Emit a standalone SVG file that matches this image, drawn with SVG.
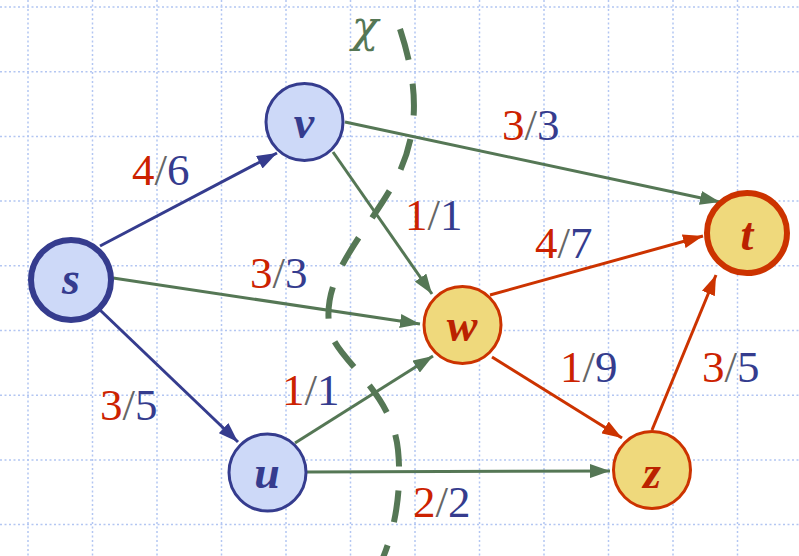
<svg xmlns="http://www.w3.org/2000/svg" width="799" height="556" viewBox="0 0 799 556">
<style>
.grid line{stroke:#b3c6f2;stroke-width:1.5;stroke-dasharray:2 2.5}
.e{fill:none;stroke-width:3}
.eb{stroke:#353c8e}
.eg{stroke:#557755}
.er{stroke:#cc3300}
.nb{fill:#cdd9f8;stroke:#353c8e}
.ny{fill:#efd97c;stroke:#cc3300}
.nl{font-family:"Liberation Serif",serif;font-weight:bold;font-style:italic;font-size:46px;text-anchor:middle}
.lb{fill:#353c8e}
.ly{fill:#bb2200}
.lab{font-family:"Liberation Serif",serif;font-size:45px}
.r{fill:#cc2200}
.s{fill:#666666}
.b{fill:#353c8e}
.cut{fill:none;stroke:#557755;stroke-width:6;stroke-dasharray:32 24}
</style>
<defs>
<marker id="ab" markerUnits="userSpaceOnUse" markerWidth="20" markerHeight="14" refX="20" refY="7" orient="auto"><path d="M0,0 L20,7 L0,14 z" fill="#353c8e"/></marker>
<marker id="ag" markerUnits="userSpaceOnUse" markerWidth="20" markerHeight="14" refX="20" refY="7" orient="auto"><path d="M0,0 L20,7 L0,14 z" fill="#557755"/></marker>
<marker id="ar" markerUnits="userSpaceOnUse" markerWidth="20" markerHeight="14" refX="20" refY="7" orient="auto"><path d="M0,0 L20,7 L0,14 z" fill="#cc3300"/></marker>
</defs>
<rect width="799" height="556" fill="#ffffff"/>
<g class="grid">
<line x1="28" y1="0" x2="28" y2="556"/><line x1="92.5" y1="0" x2="92.5" y2="556"/><line x1="157" y1="0" x2="157" y2="556"/><line x1="221.5" y1="0" x2="221.5" y2="556"/><line x1="286" y1="0" x2="286" y2="556"/><line x1="350.5" y1="0" x2="350.5" y2="556"/><line x1="415" y1="0" x2="415" y2="556"/><line x1="479.5" y1="0" x2="479.5" y2="556"/><line x1="544" y1="0" x2="544" y2="556"/><line x1="608.5" y1="0" x2="608.5" y2="556"/><line x1="673" y1="0" x2="673" y2="556"/><line x1="737.5" y1="0" x2="737.5" y2="556"/>
<line x1="0" y1="7" x2="799" y2="7"/><line x1="0" y1="71.7" x2="799" y2="71.7"/><line x1="0" y1="136.4" x2="799" y2="136.4"/><line x1="0" y1="201.1" x2="799" y2="201.1"/><line x1="0" y1="265.8" x2="799" y2="265.8"/><line x1="0" y1="330.5" x2="799" y2="330.5"/><line x1="0" y1="395.2" x2="799" y2="395.2"/><line x1="0" y1="459.9" x2="799" y2="459.9"/><line x1="0" y1="524.6" x2="799" y2="524.6"/>
</g>
<g id="connectors">
<line class="e eb" x1="100" y1="246" x2="277" y2="153" marker-end="url(#ab)"/>
<line class="e eb" x1="100" y1="310" x2="238" y2="442" marker-end="url(#ab)"/>
<line class="e eg" x1="113" y1="278" x2="420" y2="324" marker-end="url(#ag)"/>
<line class="e eg" x1="345" y1="122" x2="720" y2="202" marker-end="url(#ag)"/>
<line class="e eg" x1="333" y1="152" x2="432" y2="294" marker-end="url(#ag)"/>
<line class="e eg" x1="295" y1="443" x2="433" y2="356" marker-end="url(#ag)"/>
<line class="e eg" x1="307" y1="472" x2="610" y2="471" marker-end="url(#ag)"/>
<line class="e er" x1="490" y1="295" x2="703" y2="236" marker-end="url(#ar)"/>
<line class="e er" x1="492" y1="357" x2="622" y2="438" marker-end="url(#ar)"/>
<line class="e er" x1="652" y1="430" x2="716" y2="275" marker-end="url(#ar)"/>
</g>
<g id="cut">
<path class="cut" d="M400 29 C420 90 420 140 390 190 S320 280 330 330 C336 360 392 390 398 450 C402 490 395 530 382 560"/>
<text x="365" y="42" font-family="'DejaVu Serif',serif" font-style="italic" font-size="44" fill="#557755" text-anchor="middle">χ</text>
</g>
<g id="labels" class="lab">
<text x="132" y="185"><tspan class="r">4</tspan><tspan class="s">/</tspan><tspan class="b">6</tspan></text>
<text x="502" y="140"><tspan class="r">3</tspan><tspan class="s">/</tspan><tspan class="b">3</tspan></text>
<text x="405" y="230"><tspan class="r">1</tspan><tspan class="s">/</tspan><tspan class="b">1</tspan></text>
<text x="535" y="258"><tspan class="r">4</tspan><tspan class="s">/</tspan><tspan class="b">7</tspan></text>
<text x="250" y="288"><tspan class="r">3</tspan><tspan class="s">/</tspan><tspan class="b">3</tspan></text>
<text x="100" y="420"><tspan class="r">3</tspan><tspan class="s">/</tspan><tspan class="b">5</tspan></text>
<text x="282" y="405"><tspan class="r">1</tspan><tspan class="s">/</tspan><tspan class="b">1</tspan></text>
<text x="413" y="517"><tspan class="r">2</tspan><tspan class="s">/</tspan><tspan class="b">2</tspan></text>
<text x="560" y="382"><tspan class="r">1</tspan><tspan class="s">/</tspan><tspan class="b">9</tspan></text>
<text x="702" y="382"><tspan class="r">3</tspan><tspan class="s">/</tspan><tspan class="b">5</tspan></text>
</g>
<g id="node-s"><circle class="nb" cx="71" cy="280" r="40" stroke-width="6"/><text class="nl lb" x="71" y="294">s</text></g>
<g id="node-v"><circle class="nb" cx="304.5" cy="122" r="38.5" stroke-width="3"/><text class="nl lb" x="304" y="138">v</text></g>
<g id="node-u"><circle class="nb" cx="267.5" cy="472.5" r="38.5" stroke-width="3"/><text class="nl lb" x="267" y="488">u</text></g>
<g id="node-w"><circle class="ny" cx="462.5" cy="325" r="38.5" stroke-width="3"/><text class="nl ly" x="462" y="341">w</text></g>
<g id="node-z"><circle class="ny" cx="652" cy="470" r="38.5" stroke-width="3"/><text class="nl ly" x="652" y="488">z</text></g>
<g id="node-t"><circle class="ny" cx="747" cy="233" r="40" stroke-width="6"/><text class="nl ly" x="747" y="250">t</text></g>
</svg>
